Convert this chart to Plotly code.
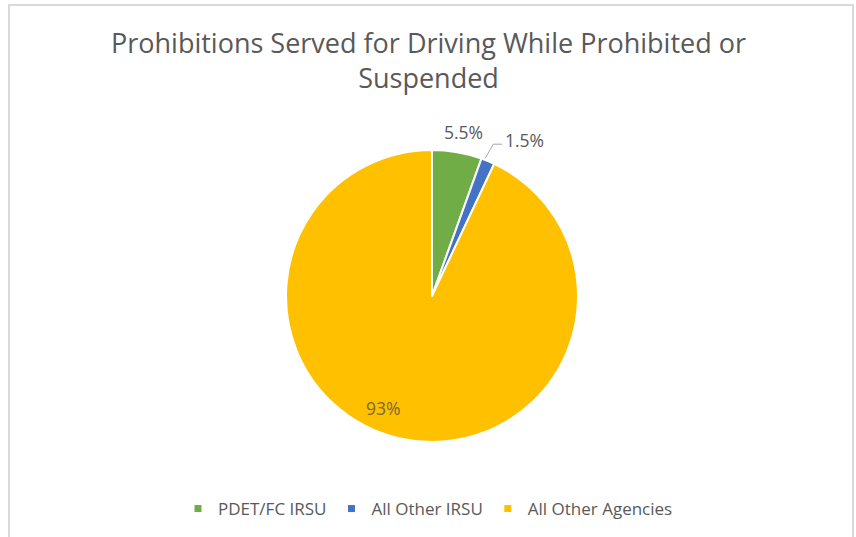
import math
import plotly.graph_objects as go

# Chart data
categories = ["PDET/FC IRSU", "All Other IRSU", "All Other Agencies"]
shares = [5.5, 1.5, 93]
label_text = ["5.5%", "1.5%", "93%"]

colors = ["#70AD47", "#4472C4", "#FFC000"]
label_colors = ["#595959", "#595959", "#7a6a35"]
# radial placement of each label, as a fraction of the pie radius
label_radius = [1.145, 1.0, 0.835]
label_angle_shift = [1.1, 0.0, 11.0]  # degrees, clockwise

W, H = 856, 537
CX, CY, R = 432, 296, 146  # pie centre / radius in pixels

def px(x):
    return x / W

def py(y):
    return 1 - y / H

fig = go.Figure()

fig.add_trace(go.Pie(
    labels=categories,
    values=shares,
    sort=False,
    direction="clockwise",
    rotation=0,
    marker=dict(colors=colors, line=dict(color="white", width=2)),
    textinfo="none",
    hoverinfo="label+percent",
    showlegend=False,
    domain=dict(x=[px(CX - R), px(CX + R)], y=[py(CY + R), py(CY - R)]),
))

# Legend entries as marker-only traces (small squares)
for name, col in zip(categories, colors):
    fig.add_trace(go.Scatter(
        x=[None], y=[None], mode="markers", name=name,
        marker=dict(symbol="square", size=7, color=col),
        hoverinfo="skip",
    ))

# Data labels placed around each slice's mid-angle
total = sum(shares)
cum = 0.0
annotations = []
shapes = []
for i, v in enumerate(shares):
    mid = (cum + v / 2) / total * 360
    cum += v
    font = dict(family="Open Sans", size=17.5, color=label_colors[i])
    if i == 1:
        # small slice: label sits at the end of a leader line
        a0 = math.radians(mid)
        sx = CX + (R + 1) * math.sin(a0) - 3
        sy = CY - (R + 1) * math.cos(a0) - 2
        bx, by = sx + 8, sy - 14
        ex, ey = bx + 9, by
        shapes.append(dict(
            type="path", xref="paper", yref="paper",
            path=f"M {px(sx)} {py(sy)} L {px(bx)} {py(by)} L {px(ex)} {py(ey)}",
            line=dict(color="#a6a6a6", width=1),
        ))
        annotations.append(dict(
            x=px(ex + 1), y=py(ey - 4), xref="paper", yref="paper",
            xanchor="left", yanchor="middle",
            text=label_text[i], showarrow=False, font=font,
        ))
        continue
    a = math.radians(mid + label_angle_shift[i])
    rr = R * label_radius[i]
    lx = CX + rr * math.sin(a)
    ly = CY - rr * math.cos(a)
    annotations.append(dict(
        x=px(lx), y=py(ly), xref="paper", yref="paper",
        xanchor="center", yanchor="middle",
        text=label_text[i], showarrow=False, font=font,
    ))

# Chart title
annotations.append(dict(
    x=0.5, y=py(60.5), xref="paper", yref="paper",
    xanchor="center", yanchor="middle", showarrow=False,
    text="Prohibitions Served for Driving While Prohibited or<br>Suspended",
    font=dict(family="Open Sans", size=27, color="#595959"),
))

# Chart frame (left, top, right edges)
shapes.append(dict(
    type="path", xref="paper", yref="paper",
    path=f"M {px(9)} {py(545)} L {px(9)} {py(5)} L {px(853)} {py(5)} L {px(853)} {py(545)}",
    line=dict(color="#d9d9d9", width=2),
))

fig.update_layout(
    width=W, height=H,
    margin=dict(l=0, r=0, t=0, b=0),
    paper_bgcolor="white",
    plot_bgcolor="white",
    xaxis=dict(visible=False),
    yaxis=dict(visible=False),
    legend=dict(
        orientation="h", x=0.5, xanchor="center", y=py(509), yanchor="middle",
        font=dict(family="Open Sans", size=17, color="#595959"),
        bgcolor="rgba(0,0,0,0)",
    ),
    annotations=annotations,
    shapes=shapes,
)

fig.write_html("out.html")
